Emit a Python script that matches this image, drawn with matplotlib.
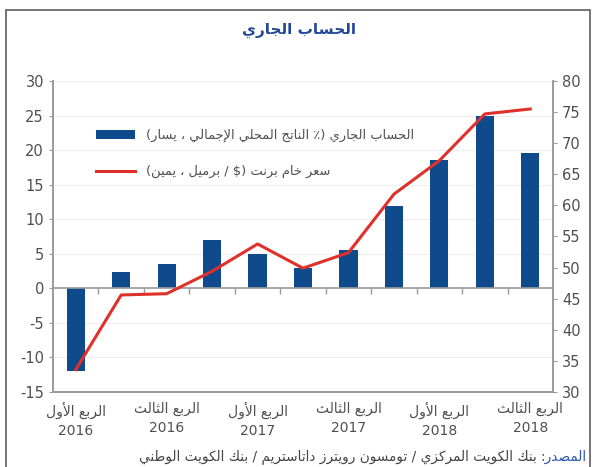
"""Current account vs Brent crude, Kuwait (NBK style chart)."""

import re

import matplotlib

matplotlib.use("Agg")
import matplotlib.pyplot as plt
import numpy as np
from matplotlib.patches import Rectangle


# quarters from Q1 2016 to Q3 2018
quarter_names = [
    "الربع الأول", "الربع الثاني", "الربع الثالث", "الربع الرابع",
    "الربع الأول", "الربع الثاني", "الربع الثالث", "الربع الرابع",
    "الربع الأول", "الربع الثاني", "الربع الثالث",
]
years = ["2016"] * 4 + ["2017"] * 4 + ["2018"] * 3

# current account, % of GDP (left axis)
current_account = [-12.0, 2.3, 3.5, 7.0, 5.0, 2.9, 5.6, 11.9, 18.5, 24.9, 19.6]
# Brent crude, $/barrel (right axis)
brent = [33.6, 45.6, 45.8, 49.4, 53.8, 49.9, 52.4, 61.8, 67.2, 74.7, 75.5]

title = "الحساب الجاري"
label_ca = "الحساب الجاري (٪ الناتج المحلي الإجمالي ، يسار)"
label_brent = "سعر خام برنت ($ / برميل ، يمين)"
source_head = "المصدر:"
source_body = "بنك الكويت المركزي / تومسون رويترز داتاستريم / بنك الكويت الوطني"

BLUE = "#0f4a8c"
RED = "#e0302b"
GREY = "#4f4f4f"
AXIS = "#9a9a9a"


def ar(text):
    """Crude Arabic shaping + right-to-left ordering for matplotlib."""
    dual = set("ئبتثجحخسشصضطظعغفقكلمنهي")
    right = set("آأؤإاةدذرزوى")
    joins = dual | right
    forms = {}
    cp = 0xFE80
    for ch in "ءآأؤإئابةتثجحخدذرزسشصضطظعغفقكلمنهوىي":
        n = 4 if ch in dual else (2 if ch in right else 1)
        forms[ch] = [chr(cp + k) for k in range(n)]
        cp += n
    lam_alef = {"آ": 0xFEF5, "أ": 0xFEF7, "إ": 0xFEF9, "ا": 0xFEFB}

    out = []
    i = 0
    while i < len(text):
        ch = text[i]
        prev = text[i - 1] if i > 0 else ""
        nxt = text[i + 1] if i + 1 < len(text) else ""
        joins_prev = ch in joins and prev in dual
        if ch == "ل" and nxt in lam_alef:
            out.append(chr(lam_alef[nxt] + int(joins_prev)))
            i += 2
            continue
        if ch not in forms:
            out.append(ch)
            i += 1
            continue
        joins_next = ch in dual and nxt in joins
        f = forms[ch]
        if len(f) == 1:
            out.append(f[0])
        elif joins_prev and joins_next:
            out.append(f[3])
        elif joins_prev:
            out.append(f[1])
        elif joins_next:
            out.append(f[2])
        else:
            out.append(f[0])
        i += 1

    tokens = re.findall(r"[0-9A-Za-z]+|.", "".join(out))
    mirror = {"(": ")", ")": "("}
    return "".join(mirror.get(t, t) for t in reversed(tokens))


def main() -> None:
    plt.rcParams["font.family"] = ["DejaVu Sans"]
    plt.rcParams["axes.unicode_minus"] = False

    fig = plt.figure(figsize=(5.97, 4.67), dpi=100)
    ax = fig.add_axes([0.0888, 0.1606, 0.8375, 0.666])
    ax2 = ax.twinx()

    x = np.arange(len(current_account))
    bars = ax.bar(x, current_account, width=0.4, color=BLUE, zorder=2,
                  label=ar(label_ca))
    (line,) = ax2.plot(x, brent, color=RED, lw=2.2, label=ar(label_brent))

    ax.set_xlim(-0.5, len(x) - 0.5)
    ax.set_ylim(-15, 30)
    ax.set_yticks(range(-15, 31, 5))
    ax2.set_ylim(30, 80)
    ax2.set_yticks(range(30, 81, 5))

    ax.grid(axis="y", color="#eeeeee", lw=0.8, zorder=0)
    ax.set_axisbelow(True)
    ax.axhline(0, color=AXIS, lw=1.2, zorder=3)
    # small category ticks hanging under the zero line
    ax.plot(x[:-1] + 0.5, np.zeros(len(x) - 1), ls="none", marker=3,
            ms=4, mew=1, color=AXIS, zorder=3)

    shown = x[::2]
    ax.set_xticks(shown)
    ax.set_xticklabels([ar(quarter_names[i]) + "\n" + years[i] for i in shown],
                       linespacing=1.5)

    for a in (ax, ax2):
        a.spines["top"].set_visible(False)
        for s in ("left", "right", "bottom"):
            a.spines[s].set_color(AXIS)
            a.spines[s].set_linewidth(1.2)
        a.tick_params(colors=AXIS, labelcolor=GREY, labelsize=10.5, length=3)
    ax.tick_params(axis="x", length=0, pad=7, labelsize=10)

    ax2.legend([bars, line], [ar(label_ca), ar(label_brent)],
               loc="upper left", bbox_to_anchor=(0.152, 0.735),
               bbox_transform=fig.transFigure, frameon=False, fontsize=9.4,
               handlelength=3.0, handleheight=0.6, handletextpad=0.8,
               labelspacing=1.75, borderaxespad=0, labelcolor=GREY)

    fig.text(0.5, 0.935, ar(title), ha="center", va="center",
             color="#24479a", fontsize=11, fontweight="bold")

    # source line: blue head on the right, grey body to its left
    head = fig.text(0.983, 0.022, ar(source_head), ha="right", va="center",
                    color="#2a55b0", fontsize=9.8)
    fig.canvas.draw()
    bb = head.get_window_extent(fig.canvas.get_renderer())
    left = fig.transFigure.inverted().transform((bb.x0, bb.y0))[0]
    fig.text(left - 0.006, 0.022, ar(source_body), ha="right", va="center",
             color="#444444", fontsize=9.8)

    fig.patches.append(Rectangle((6 / 597, -0.05), 584 / 597, 1.05 - 10 / 467,
                                 transform=fig.transFigure, fill=False,
                                 ec="#6a6a6a", lw=1.3))

    fig.savefig("out.png", dpi=100)


if __name__ == "__main__":
    main()
